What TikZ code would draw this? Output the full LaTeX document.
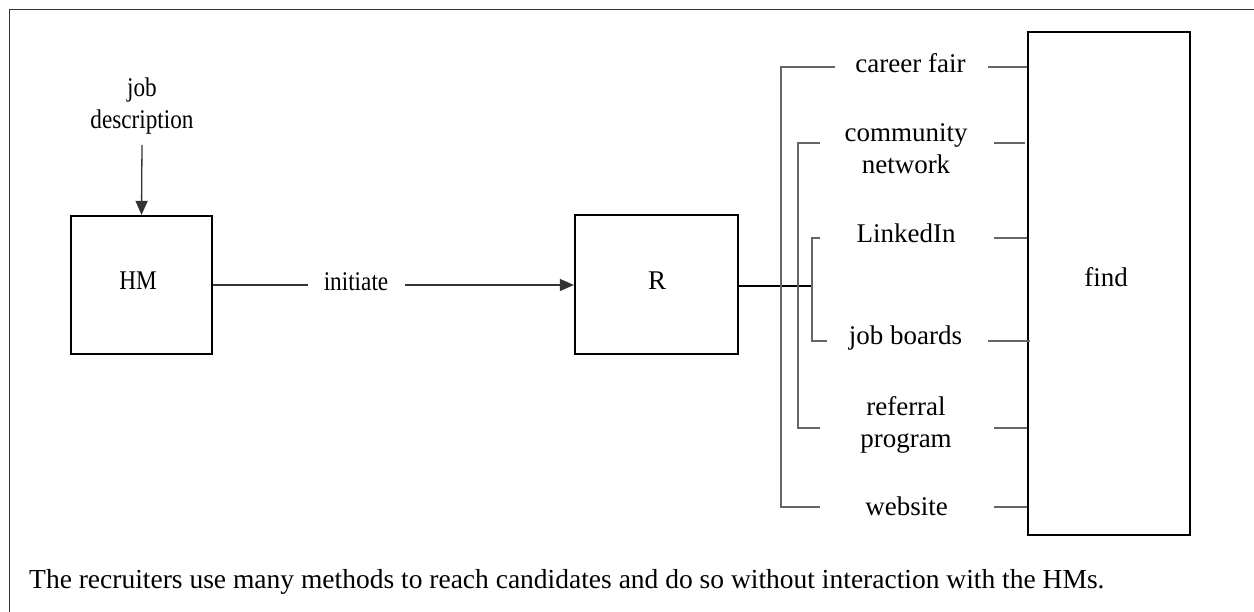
\documentclass[tikz,border=0pt]{standalone}
\usepackage{fontspec}
\setmainfont{Liberation Serif}
\newfontfamily\narrowfont[FakeStretch=0.86]{Liberation Serif}
\usetikzlibrary{arrows.meta}
\begin{document}
\begin{tikzpicture}[x=1pt,y=-1pt,
  font=\fontsize{27}{32.4}\selectfont,
  lbl/.style={inner sep=0pt, anchor=base, align=center},
  nlbl/.style={lbl, font=\fontsize{27}{32.4}\selectfont\narrowfont},
  boxstyle/.style={draw=black, line width=2.2pt, inner sep=0pt},
  wire/.style={draw=black!80, line width=1.3pt},
  brk/.style={draw=black!60, line width=1.3pt},
  arr/.style={wire, -{Triangle[length=14pt,width=12pt]}}]
\useasboundingbox (0,0) rectangle (1254,612);
% frame
\draw[draw=black!80, line width=1.4pt] (9.5,612) -- (9.5,9.5) -- (1254,9.5);
% boxes
\node[boxstyle, minimum width=141pt, minimum height=138pt] (HMbox) at (141.5,285) {};
\node[nlbl] (HM) at (138,290) {HM};
\node[boxstyle, minimum width=163pt, minimum height=139pt] (Rbox) at (656.5,284.5) {};
\node[lbl] (R) at (657,290) {R};
\node[boxstyle, minimum width=162pt, minimum height=503pt] (findbox) at (1109,283.5) {};
\node[lbl] (find) at (1106,287) {find};
% left labels (base = last line)
\node[nlbl] (jd) at (142,129) {job\\description};
\node[nlbl] (init) at (356,291) {initiate};
% method labels
\node[lbl] (cf) at (910.5,73) {career fair};
\node[lbl] (cn) at (906,174) {community\\network};
\node[lbl] (li) at (906,243) {LinkedIn};
\node[lbl] (jb) at (905.5,345) {job boards};
\node[lbl] (rp) at (906,448) {referral\\program};
\node[lbl] (ws) at (906.5,515) {website};
% caption
\node[lbl, anchor=base west, font=\fontsize{27.5}{33}\selectfont] (cap) at (29,588) {The recruiters use many methods to reach candidates and do so without interaction with the HMs.};
% coordinates
\coordinate (jdb) at (142,145);
\coordinate (i1) at (308,285);
\coordinate (i2) at (405,285);
\coordinate (bus) at (812,286);
\coordinate (cfL) at (835,67);  \coordinate (cfR) at (988,67);
\coordinate (cnL) at (820,143); \coordinate (cnR) at (994,143);
\coordinate (liL) at (820,238); \coordinate (liR) at (994,238);
\coordinate (jbL) at (827,341); \coordinate (jbR) at (988,341);
\coordinate (rpL) at (820,428); \coordinate (rpR) at (994,428);
\coordinate (wsL) at (820,507); \coordinate (wsR) at (994,507);
% connectors
\draw[arr] (jdb) -- (HMbox.north);
\draw[wire] (HMbox.east |- i1) -- (i1);
\draw[arr] (i2) -- (Rbox.west |- i2);
\draw[draw=black, line width=1.8pt] (Rbox.east |- bus) -- (bus);
% brackets
\draw[brk] (cfL) -- (781,67) -- (781,507) -- (wsL);
\draw[brk] (cnL) -- (798,143) -- (798,428) -- (rpL);
\draw[brk] (liL) -- (812,238) -- (812,341) -- (jbL);
% right stubs
\draw[brk] (cfR) -- (findbox.west |- cfR);
\draw[brk] (cnR) -- (1025,143);
\draw[brk] (liR) -- (findbox.west |- liR);
\draw[brk] (jbR) -- (1030,341);
\draw[brk] (rpR) -- (findbox.west |- rpR);
\draw[brk] (wsR) -- (findbox.west |- wsR);
\end{tikzpicture}
\end{document}
